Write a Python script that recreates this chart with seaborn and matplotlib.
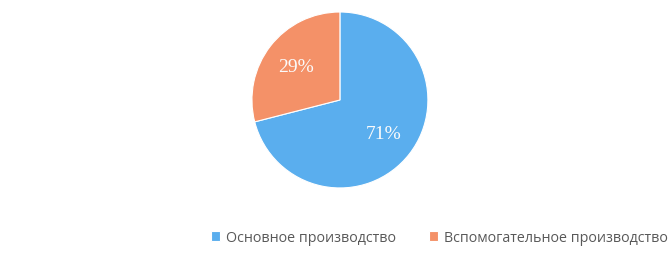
import matplotlib
matplotlib.use("Agg")
import matplotlib.pyplot as plt
import seaborn as sns

# Data
categories = ["Основное производство", "Вспомогательное производство"]
shares = [71, 29]
colors = ["#5AAEEE", "#F49168"]

sns.set_theme(style="white")
plt.rcParams["font.family"] = ["Open Sans", "DejaVu Sans"]

fig = plt.figure(figsize=(6.7, 2.55), dpi=100)
ax = fig.add_axes([0.376, 0.259, 0.2627, 0.69])

wedges, texts, autotexts = ax.pie(
    shares,
    colors=sns.color_palette(colors),
    startangle=90,
    counterclock=False,
    autopct="%d%%",
    pctdistance=0.63,
    wedgeprops={"linewidth": 0.8, "edgecolor": "white"},
    textprops={"color": "#FBFBFB", "fontsize": 14,
               "family": ["Liberation Serif", "DejaVu Serif"]},
)
ax.set_xlim(-1.0, 1.0)
ax.set_ylim(-1.0, 1.0)
ax.set_aspect("equal")

fig.legend(
    wedges, categories,
    loc="center", bbox_to_anchor=(0.656, 0.065),
    ncol=2, frameon=False, fontsize=10.3,
    handlelength=0.65, handleheight=0.65, handletextpad=0.4,
    columnspacing=2.3, labelcolor="#595959",
)

fig.savefig("out.png", dpi=100)
